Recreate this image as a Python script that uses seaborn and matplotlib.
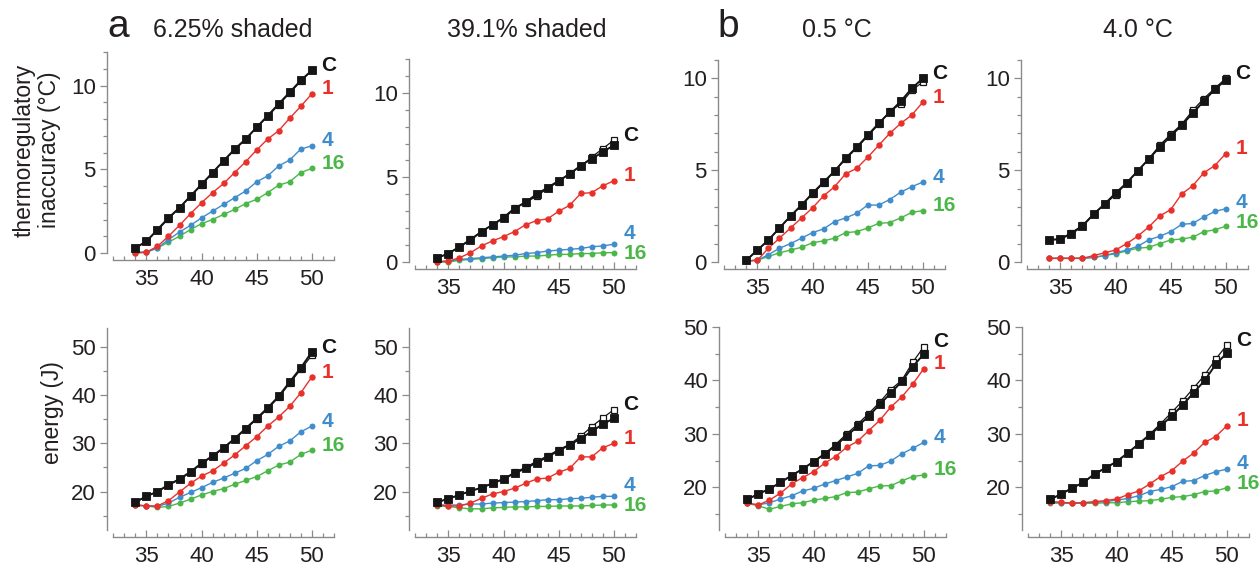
import matplotlib
matplotlib.use('Agg')
import matplotlib.pyplot as plt
from matplotlib.ticker import FixedLocator, MultipleLocator
import seaborn as sns
import pandas as pd

# temperatures (°C) on the x axis
temps = list(range(34, 51))

# --- thermoregulatory inaccuracy (°C) ---
acc_625_c = [0.3, 0.7, 1.4, 2.1, 2.7, 3.4, 4.1, 4.8, 5.5, 6.2, 6.8, 7.5, 8.2, 8.9, 9.6, 10.3, 10.9]
acc_625_c2 = [0.3, 0.7, 1.35, 2.05, 2.7, 3.4, 4.05, 4.8, 5.5, 6.15, 6.8, 7.5, 8.15, 8.85, 9.55, 10.25, 10.9]
acc_625_1 = [0.0, 0.05, 0.4, 1.0, 1.65, 2.35, 3.0, 3.6, 4.15, 4.8, 5.45, 6.15, 6.8, 7.3, 8.05, 8.75, 9.5]
acc_625_4 = [0.05, 0.05, 0.3, 0.8, 1.25, 1.65, 2.1, 2.5, 2.9, 3.3, 3.7, 4.25, 4.6, 5.2, 5.55, 6.2, 6.4]
acc_625_16 = [0.0, 0.05, 0.3, 0.65, 1.0, 1.4, 1.75, 2.0, 2.3, 2.6, 2.95, 3.2, 3.6, 4.05, 4.25, 4.8, 5.05]

acc_391_c = [0.25, 0.5, 0.9, 1.3, 1.8, 2.2, 2.6, 3.15, 3.55, 4.0, 4.4, 4.8, 5.2, 5.7, 6.1, 6.5, 6.9]
acc_391_c2 = [0.25, 0.5, 0.9, 1.35, 1.8, 2.2, 2.65, 3.2, 3.5, 3.9, 4.35, 4.75, 5.25, 5.65, 6.2, 6.7, 7.2]
acc_391_1 = [0.0, 0.05, 0.25, 0.55, 0.95, 1.25, 1.5, 1.8, 2.2, 2.45, 2.55, 3.0, 3.35, 4.05, 4.1, 4.5, 4.8]
acc_391_4 = [0.05, 0.05, 0.15, 0.2, 0.25, 0.3, 0.35, 0.4, 0.5, 0.55, 0.65, 0.7, 0.75, 0.8, 0.9, 0.95, 1.05]
acc_391_16 = [0.0, 0.0, 0.1, 0.15, 0.2, 0.25, 0.3, 0.3, 0.35, 0.35, 0.4, 0.45, 0.45, 0.5, 0.5, 0.55, 0.55]

acc_05_c = [0.1, 0.65, 1.2, 1.85, 2.5, 3.1, 3.75, 4.35, 4.95, 5.65, 6.25, 6.9, 7.55, 8.15, 8.75, 9.45, 10.0]
acc_05_c2 = [0.1, 0.65, 1.2, 1.85, 2.5, 3.1, 3.7, 4.3, 4.95, 5.6, 6.2, 6.85, 7.5, 8.2, 8.6, 9.35, 9.8]
acc_05_1 = [0.05, 0.1, 0.75, 1.3, 1.85, 2.4, 2.95, 3.6, 4.1, 4.8, 5.1, 5.7, 6.35, 7.0, 7.55, 8.0, 8.7]
acc_05_4 = [0.05, 0.1, 0.4, 0.75, 1.0, 1.3, 1.6, 1.8, 2.2, 2.4, 2.65, 3.1, 3.1, 3.4, 3.8, 4.1, 4.35]
acc_05_16 = [0.05, 0.1, 0.3, 0.5, 0.65, 0.8, 1.05, 1.15, 1.3, 1.6, 1.65, 1.85, 2.1, 2.15, 2.4, 2.7, 2.8]

acc_40_c = [1.2, 1.25, 1.55, 1.95, 2.6, 3.15, 3.75, 4.3, 4.95, 5.6, 6.25, 6.85, 7.45, 8.1, 8.75, 9.4, 9.9]
acc_40_c2 = [1.2, 1.25, 1.6, 2.0, 2.6, 3.15, 3.65, 4.3, 4.95, 5.6, 6.35, 6.95, 7.5, 8.25, 8.9, 9.45, 10.0]
acc_40_1 = [0.2, 0.2, 0.2, 0.2, 0.35, 0.5, 0.65, 1.0, 1.4, 1.9, 2.5, 2.85, 3.7, 4.15, 4.85, 5.25, 5.9]
acc_40_4 = [0.2, 0.2, 0.2, 0.2, 0.25, 0.35, 0.5, 0.65, 0.85, 1.2, 1.4, 1.65, 2.05, 2.1, 2.45, 2.75, 2.9]
acc_40_16 = [0.2, 0.2, 0.2, 0.2, 0.25, 0.35, 0.45, 0.6, 0.75, 0.8, 1.0, 1.2, 1.25, 1.35, 1.65, 1.75, 1.95]

# --- energy (J) ---
en_625_c = [17.8, 19.0, 20.0, 21.4, 22.6, 24.1, 25.9, 27.4, 29.1, 31.0, 33.1, 35.2, 37.4, 39.8, 42.8, 45.7, 49.0]
en_625_c2 = [17.8, 19.0, 20.0, 21.3, 22.5, 24.0, 25.8, 27.3, 29.0, 30.9, 33.0, 35.0, 37.2, 39.6, 42.5, 45.4, 48.3]
en_625_1 = [17.2, 17.0, 17.0, 18.1, 19.9, 21.7, 23.2, 24.3, 25.9, 27.6, 29.5, 31.4, 33.6, 35.5, 37.7, 40.5, 43.8]
en_625_4 = [17.2, 17.0, 16.9, 17.6, 18.8, 19.8, 20.8, 21.9, 22.8, 23.8, 24.8, 26.4, 27.7, 29.4, 30.5, 32.4, 33.6]
en_625_16 = [17.2, 17.0, 16.7, 16.9, 17.6, 18.4, 19.3, 20.0, 20.6, 21.5, 22.3, 23.1, 24.3, 25.5, 26.1, 27.7, 28.6]

en_391_c = [17.8, 18.5, 19.3, 20.1, 20.8, 21.7, 22.6, 23.8, 24.8, 26.0, 27.2, 28.5, 29.7, 31.0, 32.5, 34.0, 35.2]
en_391_c2 = [17.8, 18.5, 19.3, 20.1, 20.8, 21.7, 22.6, 24.0, 25.0, 26.3, 27.4, 28.7, 29.8, 31.5, 33.5, 35.3, 37.0]
en_391_1 = [17.2, 17.0, 17.0, 17.6, 18.6, 19.5, 20.0, 20.7, 21.7, 22.6, 22.8, 24.0, 24.8, 27.2, 27.2, 29.1, 30.0]
en_391_4 = [17.2, 17.2, 17.2, 17.4, 17.4, 17.6, 17.7, 17.8, 17.9, 18.1, 18.3, 18.3, 18.5, 18.6, 18.8, 19.0, 19.0]
en_391_16 = [17.0, 16.9, 16.6, 16.4, 16.4, 16.6, 16.7, 16.8, 16.8, 16.9, 16.9, 17.0, 17.0, 17.0, 17.1, 17.2, 17.2]

en_05_c = [17.75, 18.75, 19.7, 20.9, 22.2, 23.4, 24.8, 26.2, 27.8, 29.6, 31.4, 33.3, 35.5, 37.6, 39.8, 42.6, 44.9]
en_05_c2 = [17.75, 18.75, 19.7, 20.9, 22.2, 23.4, 24.8, 26.3, 28.0, 30.0, 31.8, 33.8, 35.9, 38.3, 40.0, 43.4, 46.3]
en_05_1 = [17.0, 16.7, 17.6, 18.9, 20.6, 21.8, 22.9, 24.5, 25.75, 27.5, 28.6, 30.6, 32.5, 35.0, 36.9, 39.3, 42.2]
en_05_4 = [17.0, 16.7, 17.1, 17.8, 18.4, 19.3, 19.8, 20.6, 21.25, 21.9, 22.6, 24.0, 24.1, 24.9, 26.25, 27.3, 28.4]
en_05_16 = [17.0, 16.5, 15.9, 16.4, 16.9, 17.1, 17.6, 17.9, 18.25, 19.0, 19.1, 19.7, 20.25, 20.3, 21.2, 22.0, 22.3]

en_40_c = [17.75, 18.75, 19.9, 20.9, 22.5, 23.6, 24.8, 26.4, 28.1, 29.8, 31.5, 33.3, 35.4, 37.7, 40.0, 43.0, 45.1]
en_40_c2 = [17.75, 18.75, 19.9, 20.9, 22.5, 23.6, 24.8, 26.4, 28.1, 29.9, 31.9, 34.0, 36.2, 38.6, 41.0, 44.0, 46.6]
en_40_1 = [17.3, 17.2, 17.0, 17.1, 17.3, 17.5, 17.8, 18.6, 19.3, 20.6, 22.0, 23.1, 24.9, 26.4, 28.4, 29.5, 31.5]
en_40_4 = [17.2, 17.1, 17.1, 17.1, 17.2, 17.3, 17.6, 17.9, 18.4, 19.2, 19.6, 20.1, 21.1, 21.25, 22.2, 22.9, 23.4]
en_40_16 = [17.1, 17.0, 17.0, 17.0, 17.0, 17.1, 17.1, 17.3, 17.4, 17.5, 17.75, 18.1, 18.25, 18.6, 19.2, 19.3, 19.9]

titles = ['6.25% shaded', '39.1% shaded', '0.5 °C', '4.0 °C']
series_labels = ['C', '1', '4', '16']

panel_data = [
    [acc_625_c, acc_625_c2, acc_625_1, acc_625_4, acc_625_16],
    [acc_391_c, acc_391_c2, acc_391_1, acc_391_4, acc_391_16],
    [acc_05_c, acc_05_c2, acc_05_1, acc_05_4, acc_05_16],
    [acc_40_c, acc_40_c2, acc_40_1, acc_40_4, acc_40_16],
    [en_625_c, en_625_c2, en_625_1, en_625_4, en_625_16],
    [en_391_c, en_391_c2, en_391_1, en_391_4, en_391_16],
    [en_05_c, en_05_c2, en_05_1, en_05_4, en_05_16],
    [en_40_c, en_40_c2, en_40_1, en_40_4, en_40_16],
]
series_keys = ['C', 'C2', '1', '4', '16']

rows = []
for p, arrs in enumerate(panel_data):
    for key, vals in zip(series_keys, arrs):
        for t, v in zip(temps, vals):
            rows.append({'panel': p, 'series': key, 'temp': t, 'value': v})
df = pd.DataFrame(rows)

COL = {'C': '#151515', 'C2': '#151515', '1': '#e8312b', '4': '#3f8dcc', '16': '#4bb748'}
STYLE = {
    'C': dict(marker='s', markersize=5.2, linewidth=1.4, markeredgewidth=0.6),
    'C2': dict(marker='s', markersize=4.6, linewidth=0.9, markerfacecolor='white', markeredgewidth=0.9),
    '1': dict(marker='o', markersize=4.6, linewidth=1.0, markeredgewidth=0),
    '4': dict(marker='o', markersize=4.3, linewidth=1.0, markeredgewidth=0),
    '16': dict(marker='o', markersize=4.3, linewidth=1.0, markeredgewidth=0),
}
SPINE = '#8a8a8a'
TXT = '#231f20'

W, H = 1259, 567
sns.set_style('ticks')
plt.rcParams['font.family'] = ['Liberation Sans', 'DejaVu Sans']

fig = plt.figure(figsize=(W / 100, H / 100), dpi=100)

# layout in pixels: left spine x, x-axis y, spine top y, spine range
layout = [
    (107, 260, 52, 0, 12), (409, 269, 59, 0, 12), (718, 269, 60, 0, 11), (1021, 269, 60, 0, 11),
    (107, 537, 328, 12, 54), (409, 537, 328, 12, 54), (719, 537, 327, 12, 50), (1022, 537, 327, 12, 50),
]
OFFSET = 7
PX_PER_DEG = 11.02
X0 = 31.42
AX_W = 230

for p, (left, xax, top, lo, hi) in enumerate(layout):
    ppu = (xax - OFFSET - top) / (hi - lo)
    ax = fig.add_axes([left / W, 1 - xax / H, AX_W / W, (xax - top) / H])
    sub = df[df['panel'] == p]
    for key in ['16', '4', '1', 'C2', 'C']:
        s = sub[sub['series'] == key]
        sns.lineplot(data=s, x='temp', y='value', ax=ax, color=COL[key],
                     markeredgecolor=COL[key], clip_on=False, legend=False, **STYLE[key])
    ax.set_xlim(X0, X0 + AX_W / PX_PER_DEG)
    ax.set_ylim(lo - OFFSET / ppu, hi)
    ax.set_xlabel('')
    ax.set_ylabel('')
    for side in ['top', 'right']:
        ax.spines[side].set_visible(False)
    ax.spines['left'].set_bounds(lo, hi)
    ax.spines['bottom'].set_bounds(32, 52)
    for side in ['left', 'bottom']:
        ax.spines[side].set_color(SPINE)
        ax.spines[side].set_linewidth(1.0)
    ax.xaxis.set_major_locator(FixedLocator([35, 40, 45, 50]))
    ax.xaxis.set_minor_locator(MultipleLocator(1))
    if p < 4:
        ax.yaxis.set_major_locator(FixedLocator([0, 5, 10]))
        ax.yaxis.set_minor_locator(MultipleLocator(1))
    else:
        ax.yaxis.set_major_locator(FixedLocator([20, 30, 40, 50]))
        ax.yaxis.set_minor_locator(MultipleLocator(5))
    ax.tick_params(axis='x', which='both', direction='in', color=SPINE, labelcolor=TXT,
                   labelsize=16, pad=6.5, width=0.9)
    ax.tick_params(axis='x', which='major', length=5)
    ax.tick_params(axis='x', which='minor', length=3)
    ax.tick_params(axis='y', which='both', direction='out', color=SPINE, labelcolor=TXT,
                   labelsize=16, pad=3, width=0.9)
    ax.tick_params(axis='y', which='major', length=5)
    ax.tick_params(axis='y', which='minor', length=3)

    # end labels, spread apart so they do not overlap
    arrs = panel_data[p]
    ends = [max(arrs[0][-1], arrs[1][-1]), arrs[2][-1], arrs[3][-1], arrs[4][-1]]
    ypos = [e + 5 / ppu for e in ends]
    gap = 20 / ppu
    for _ in range(30):
        order = sorted(range(4), key=lambda i: ypos[i])
        for a, b in zip(order[:-1], order[1:]):
            d = ypos[b] - ypos[a]
            if d < gap:
                shift = (gap - d) / 2
                ypos[a] -= shift
                ypos[b] += shift
    for lab, key, y in zip(series_labels, ['C', '1', '4', '16'], ypos):
        ax.annotate(lab, xy=(temps[-1], y), xytext=(7, 0), textcoords='offset points',
                    ha='left', va='center', fontsize=15, fontweight='bold',
                    color=COL[key], annotation_clip=False)

    if p < 4:
        title_x = [233, 527, 837, 1138][p]
        fig.text(title_x / W, 1 - 37 / H, titles[p], ha='center', va='baseline',
                 fontsize=18, color=TXT)

fig.text(107 / W, 1 - 37 / H, 'a', ha='left', va='baseline', fontsize=28, color=TXT)
fig.text(717 / W, 1 - 37 / H, 'b', ha='left', va='baseline', fontsize=28, color=TXT)
fig.text(37 / W, 1 - 150 / H, 'thermoregulatory\ninaccuracy (°C)', rotation=90,
         ha='center', va='center', multialignment='center', fontsize=16.5, color=TXT,
         linespacing=1.1)
fig.text(53 / W, 1 - 413 / H, 'energy (J)', rotation=90, ha='center', va='center',
         fontsize=16.5, color=TXT)

fig.savefig('out.png', dpi=100)
plt.close()
